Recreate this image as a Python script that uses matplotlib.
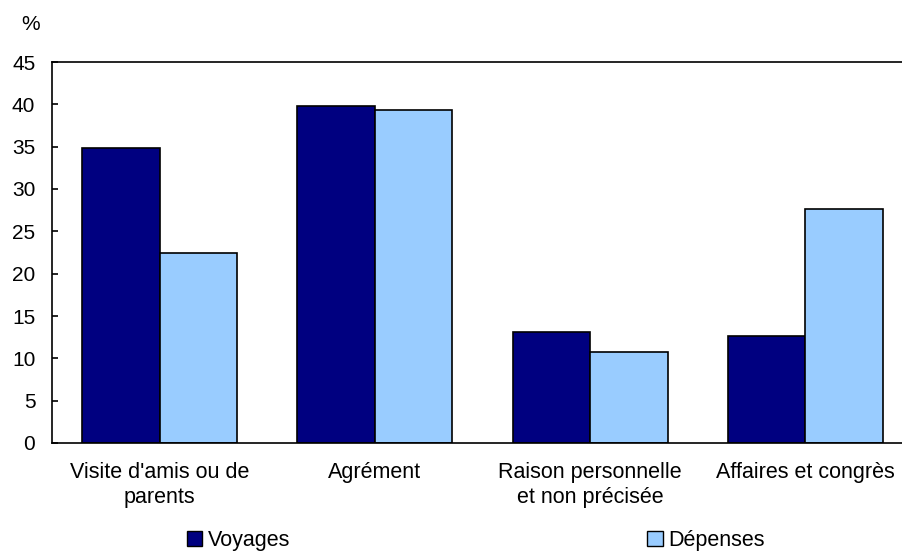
import numpy as np
import matplotlib
matplotlib.use("Agg")
import matplotlib.pyplot as plt
from matplotlib.patches import Patch

plt.rcParams['font.family'] = ['Liberation Sans', 'DejaVu Sans']

# données
categories = ["Visite d'amis ou de\nparents", "Agrément",
              "Raison personnelle\net non précisée", "Affaires et congrès"]
voyages = [34.9, 39.8, 13.1, 12.6]
depenses = [22.4, 39.3, 10.7, 27.6]
yticks = [0, 5, 10, 15, 20, 25, 30, 35, 40, 45]

navy = "#000080"
light = "#99CCFF"

fig = plt.figure(figsize=(9.03, 5.56), dpi=100)
ax = fig.add_axes([52 / 903, 1 - 443 / 556, 1 - 52 / 903, (443 - 62) / 556])

x = np.arange(len(categories))
w = 0.36
ax.bar(x - w / 2, voyages, w, color=navy, edgecolor="black", linewidth=1.2, zorder=2)
ax.bar(x + w / 2, depenses, w, color=light, edgecolor="black", linewidth=1.2, zorder=2)

ax.set_xlim(-0.5, 3.453)
ax.set_ylim(0, 45)
ax.set_yticks(yticks)
ax.set_xticks(x)
ax.set_xticklabels(categories, fontsize=15.5)
ax.tick_params(axis='y', direction='in', length=4.5, width=1.2, pad=12, labelsize=15)
ax.tick_params(axis='x', length=0, pad=14)

ax.spines['right'].set_visible(False)
for s in ['left', 'bottom', 'top']:
    ax.spines[s].set_linewidth(1.2)
    ax.spines[s].set_color("black")

fig.text(31 / 903, 1 - 25 / 556, "%", fontsize=15, va='center', ha='center')

handles = [Patch(facecolor=navy, edgecolor="black", linewidth=1, label="Voyages"),
           Patch(facecolor=light, edgecolor="black", linewidth=1, label="Dépenses")]
fig.legend(handles=handles, loc='lower left', bbox_to_anchor=(178 / 903, -0.006),
           ncol=2, frameon=False, fontsize=15.5, handlelength=0.7, handleheight=0.7,
           handletextpad=0.28, columnspacing=16.6, borderaxespad=0)

fig.savefig("out.png", dpi=100)
